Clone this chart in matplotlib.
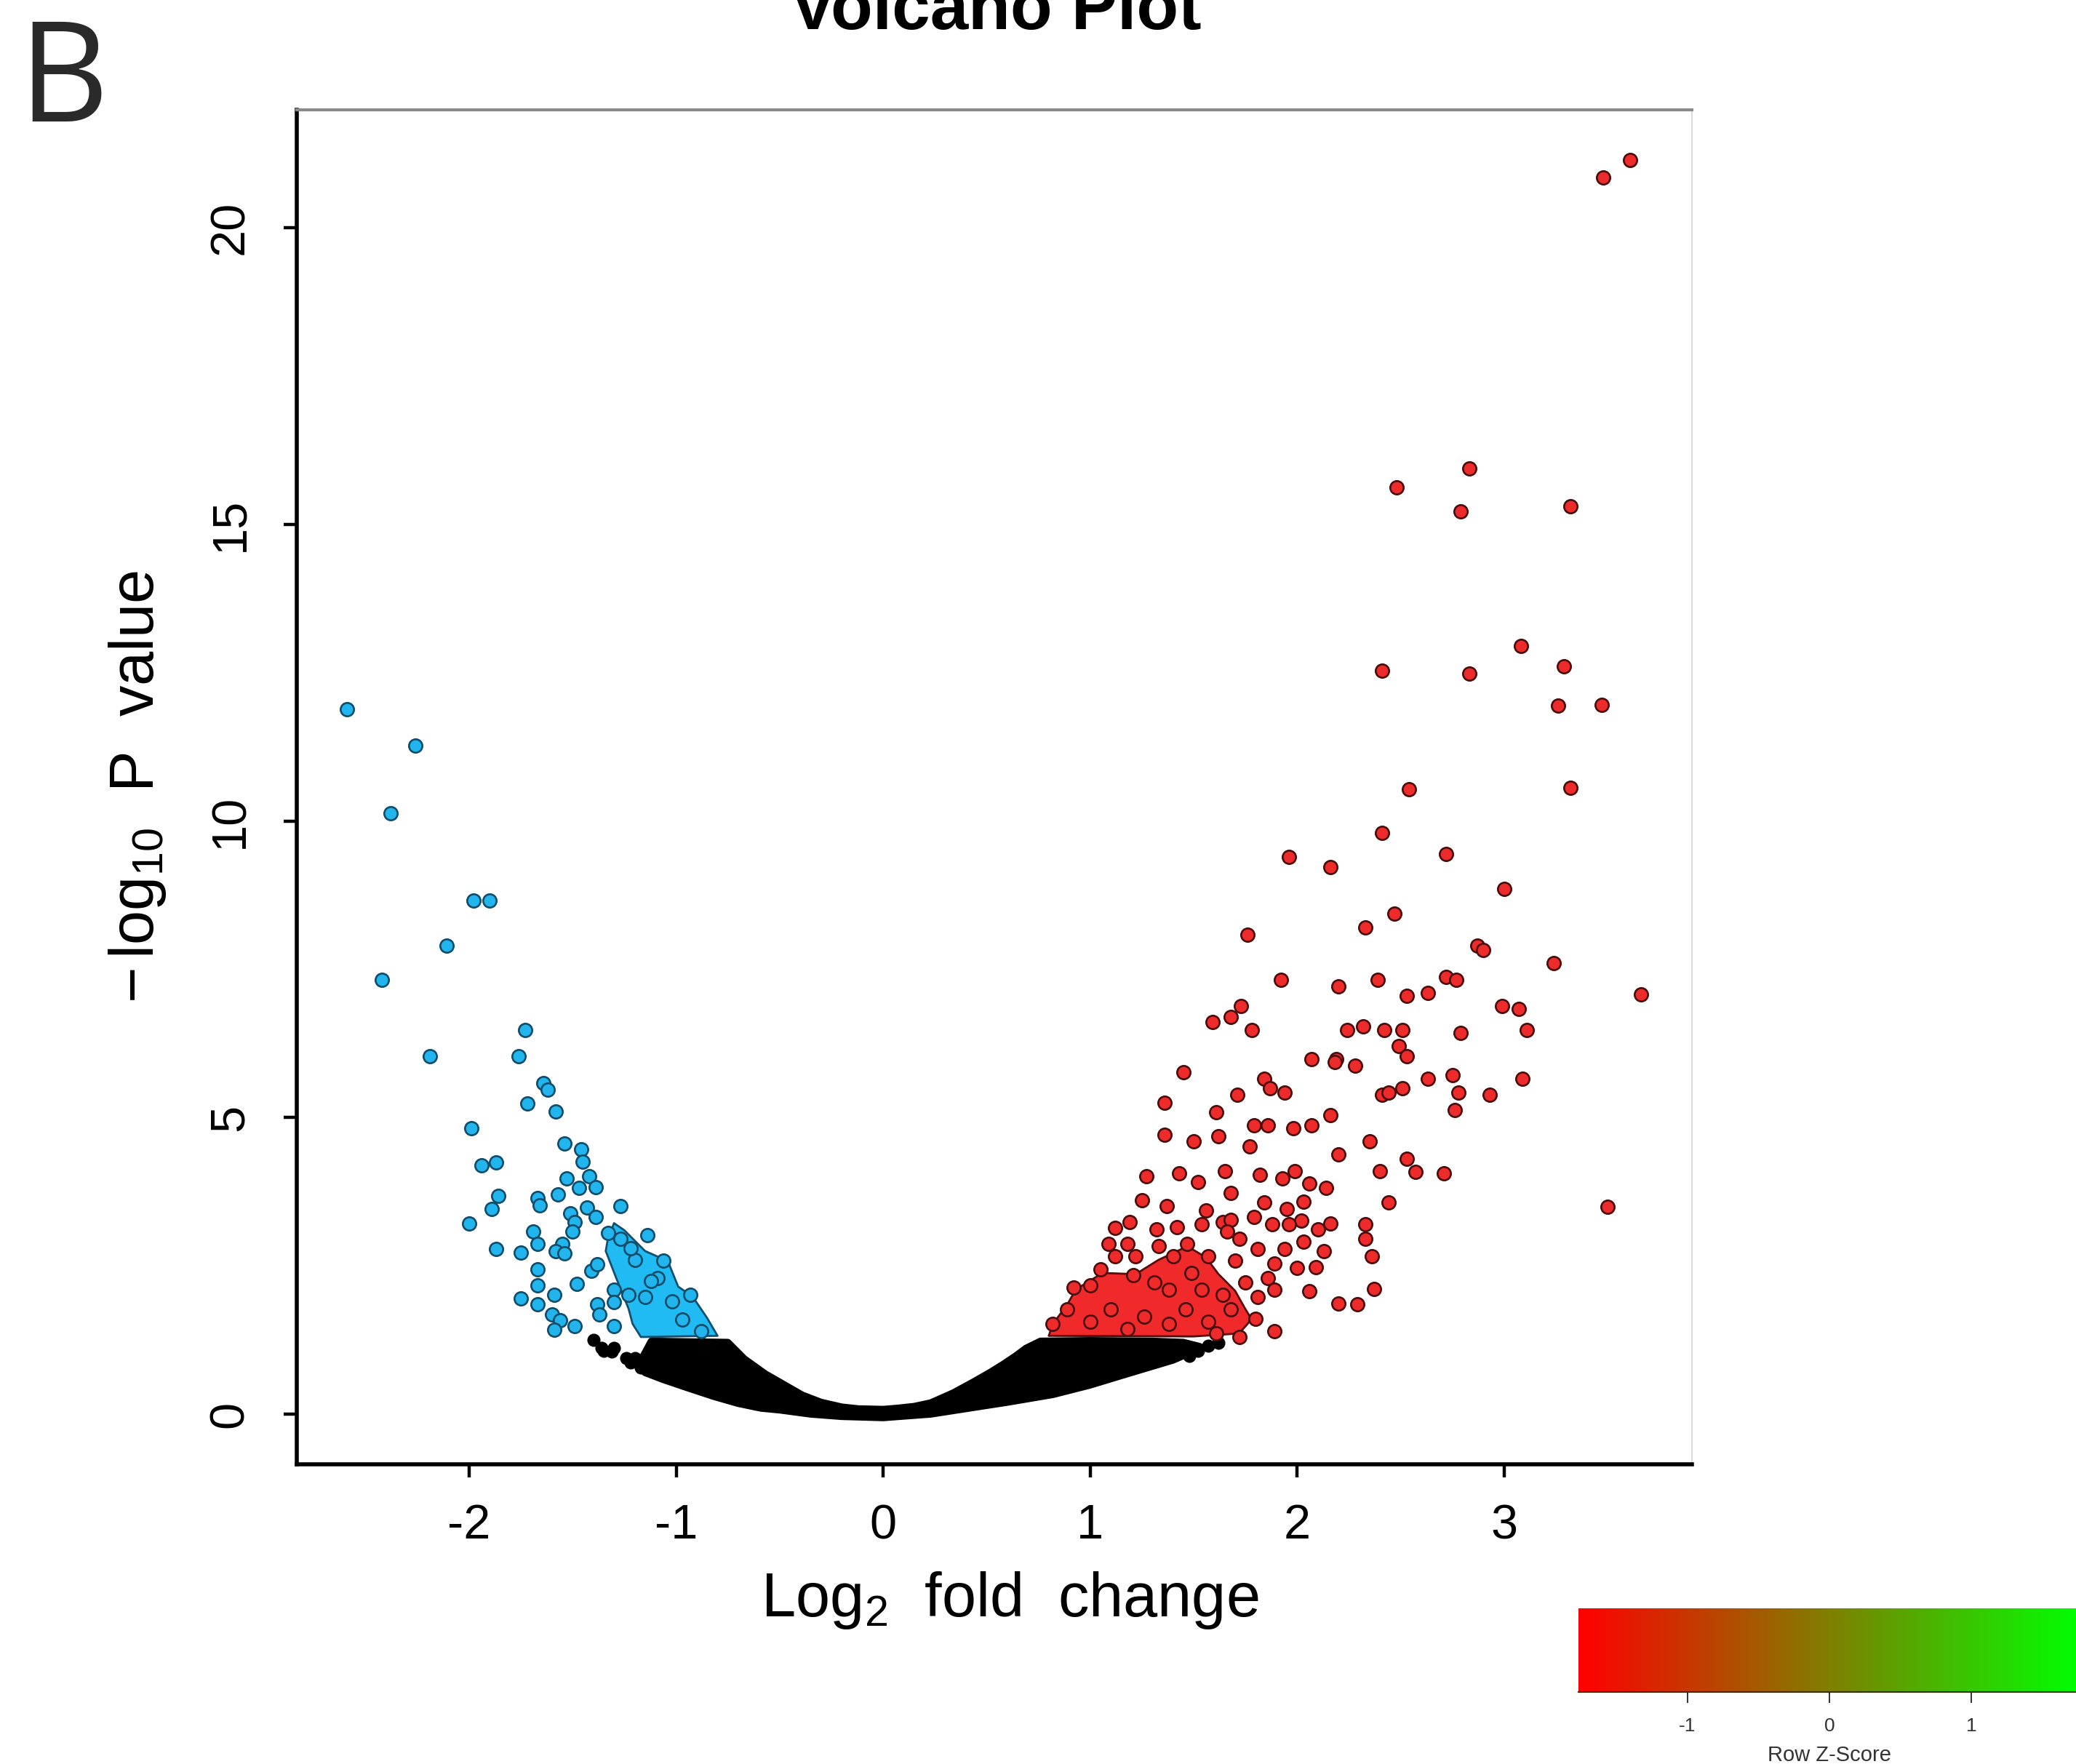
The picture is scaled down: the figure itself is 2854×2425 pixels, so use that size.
import numpy as np
import matplotlib.pyplot as plt
from matplotlib.colors import LinearSegmentedColormap

plt.rcParams['font.family'] = ['Liberation Sans', 'DejaVu Sans']
plt.rcParams['mathtext.fontset'] = 'custom'
plt.rcParams['mathtext.rm'] = 'Liberation Sans'
plt.rcParams['mathtext.it'] = 'Liberation Sans'
plt.rcParams['axes.unicode_minus'] = False

# down-regulated genes (blue)
blue_x = [-2.59, -2.26, -2.38, -1.98, -1.90, -2.11, -2.42, -2.19, -1.73, -1.76,
          -1.64, -1.62, -1.72, -1.58, -1.99, -1.94, -1.87, -1.86, -1.89, -2.00,
          -1.87, -1.54, -1.46, -1.45, -1.53, -1.42, -1.39, -1.47, -1.57, -1.67,
          -1.66, -1.43, -1.39, -1.27, -1.51, -1.49, -1.50, -1.69, -1.67, -1.55,
          -1.58, -1.54, -1.75, -1.14, -1.06, -1.67, -1.67, -1.75, -1.59, -1.67,
          -1.60, -1.56, -1.59, -1.49, -1.48, -1.41, -1.38, -1.38, -1.37, -1.30,
          -1.30, -1.30, -1.23, -0.93, -1.09, -1.15, -1.27, -1.20, -1.12, -1.02,
          -0.97, -0.88, -1.33, -1.22]
blue_y = [11.88, 11.27, 10.13, 8.66, 8.66, 7.90, 7.32, 6.03, 6.47, 6.03,
          5.58, 5.47, 5.24, 5.10, 4.82, 4.20, 4.24, 3.68, 3.46, 3.21,
          2.79, 4.56, 4.46, 4.26, 3.97, 4.01, 3.83, 3.81, 3.71, 3.64,
          3.52, 3.48, 3.32, 3.51, 3.38, 3.24, 3.08, 3.08, 2.87, 2.87,
          2.75, 2.71, 2.72, 3.02, 2.59, 2.44, 2.17, 1.95, 2.01, 1.85,
          1.68, 1.58, 1.42, 1.48, 2.20, 2.42, 2.53, 1.85, 1.68, 2.10,
          1.89, 1.48, 2.01, 2.01, 2.29, 1.97, 2.95, 2.60, 2.25, 1.90,
          1.60, 1.40, 3.05, 2.80]

# up-regulated genes (red)
red_x = [3.61, 3.48, 2.83, 2.48, 2.79, 3.32, 3.08, 2.41, 2.83, 3.29,
         3.26, 3.47, 2.54, 3.32, 2.41, 1.96, 2.16, 2.72, 3.00, 2.47,
         2.33, 1.76, 2.87, 2.90, 3.24, 1.92, 2.20, 2.39, 2.72, 2.77,
         3.66, 2.53, 2.63, 1.73, 2.99, 3.07, 1.68, 1.59, 3.11, 1.78,
         2.24, 2.32, 2.42, 2.51, 2.79, 2.49, 2.53, 2.07, 2.19, 2.28,
         2.18, 1.45, 1.84, 2.63, 2.75, 3.09, 1.71, 1.87, 1.94, 2.41,
         2.44, 2.51, 2.78, 2.93, 1.36, 1.61, 2.16, 2.76, 1.79, 1.98,
         2.07, 1.86, 1.36, 1.50, 1.62, 2.35, 2.53, 2.57, 2.71, 1.77,
         2.20, 2.44, 3.50,
         1.27, 1.43, 1.52, 1.65, 1.82, 1.93, 1.99, 2.06, 2.14, 2.40,
         1.68, 1.25, 1.37, 1.56, 1.84, 1.95, 2.03, 1.79, 1.88, 2.02,
         1.96, 2.16, 2.10, 2.33, 1.12, 1.19, 1.32, 1.42, 1.54, 1.64,
         1.68, 1.66, 1.72, 1.09, 1.18, 1.33, 1.47, 1.81, 1.94, 2.03,
         2.13, 2.33, 2.36, 1.12, 1.22, 1.40, 1.57, 1.70, 1.89, 2.00,
         2.09, 1.05, 1.21, 1.49, 1.75, 1.86, 1.89, 2.06, 2.37, 1.81,
         2.20, 2.29, 1.89, 1.72, 1.80, 0.92, 1.00, 0.89, 0.82, 1.31,
         1.38, 1.54, 1.64, 1.10, 1.26, 1.46, 1.68, 1.00, 1.18, 1.38,
         1.57, 1.61]
red_y = [21.14, 20.85, 15.94, 15.63, 15.22, 15.31, 12.95, 12.54, 12.48, 12.61,
         11.94, 11.96, 10.54, 10.56, 9.80, 9.40, 9.22, 9.44, 8.86, 8.44,
         8.21, 8.08, 7.90, 7.83, 7.61, 7.32, 7.21, 7.32, 7.37, 7.32,
         7.08, 7.05, 7.10, 6.88, 6.88, 6.83, 6.70, 6.61, 6.47, 6.47,
         6.47, 6.54, 6.47, 6.47, 6.43, 6.21, 6.03, 5.98, 5.98, 5.87,
         5.94, 5.76, 5.65, 5.65, 5.71, 5.65, 5.38, 5.49, 5.42, 5.38,
         5.42, 5.49, 5.42, 5.38, 5.25, 5.09, 5.04, 5.13, 4.87, 4.82,
         4.87, 4.87, 4.71, 4.60, 4.69, 4.60, 4.31, 4.08, 4.06, 4.51,
         4.38, 3.57, 3.50,
         4.01, 4.06, 3.91, 4.10, 4.03, 3.97, 4.10, 3.89, 3.81, 4.10,
         3.73, 3.61, 3.51, 3.44, 3.57, 3.46, 3.58, 3.32, 3.20, 3.26,
         3.20, 3.21, 3.11, 3.20, 3.14, 3.24, 3.11, 3.15, 3.20, 3.24,
         3.27, 3.08, 2.96, 2.87, 2.87, 2.83, 2.87, 2.78, 2.78, 2.91,
         2.75, 2.96, 2.66, 2.66, 2.66, 2.66, 2.66, 2.59, 2.54, 2.46,
         2.48, 2.44, 2.34, 2.38, 2.22, 2.29, 2.10, 2.07, 2.11, 1.97,
         1.86, 1.85, 1.40, 1.30, 1.61, 2.13, 2.17, 1.77, 1.52, 2.22,
         2.10, 2.10, 2.01, 1.77, 1.64, 1.77, 1.77, 1.56, 1.43, 1.52,
         1.56, 1.36]

# sparse non-significant genes at the edges of the cloud
black_x = [-1.40, -1.36, -1.31, -1.35, -1.30, -1.24, -1.22, -1.20, -1.17, -1.15,
           1.52, 1.57, 1.62, 1.48]
black_y = [1.25, 1.12, 1.05, 1.07, 1.12, 0.95, 0.87, 0.95, 0.78, 0.82,
           1.07, 1.15, 1.20, 0.98]

# outline of the dense non-significant cloud (top edge, then bottom edge back)
cloud_top_x = [-1.12, -0.95, -0.75, -0.67, -0.57, -0.48, -0.39, -0.30, -0.20, -0.12,
               0.00, 0.07, 0.15, 0.23, 0.34, 0.44, 0.52, 0.58, 0.64, 0.69,
               0.76, 1.00, 1.30, 1.45, 1.53]
cloud_top_y = [1.23, 1.22, 1.21, 0.93, 0.68, 0.50, 0.32, 0.20, 0.12, 0.09,
               0.08, 0.10, 0.13, 0.19, 0.36, 0.55, 0.71, 0.84, 0.98, 1.11,
               1.23, 1.24, 1.23, 1.21, 1.14]
cloud_bot_x = [1.50, 1.40, 1.17, 1.00, 0.82, 0.60, 0.47, 0.23, 0.00, -0.20,
               -0.35, -0.50, -0.59, -0.70, -0.82, -0.95, -1.06, -1.15, -1.18, -1.16,
               -1.14]
cloud_bot_y = [1.06, 0.91, 0.67, 0.49, 0.33, 0.20, 0.13, 0.00, -0.06, -0.04,
               0.00, 0.07, 0.10, 0.18, 0.30, 0.45, 0.58, 0.70, 0.82, 0.97,
               1.10]

# dense significant cores
blue_core_x = [-1.30, -1.25, -1.15, -1.04, -0.99, -0.92, -0.85, -0.80, -1.00, -1.17,
               -1.21, -1.23, -1.29, -1.34, -1.33]
blue_core_y = [3.22, 3.10, 2.75, 2.58, 2.15, 1.98, 1.62, 1.32, 1.31, 1.30,
               1.52, 1.78, 2.30, 2.75, 2.95]
red_core_x = [0.80, 0.82, 0.89, 0.93, 1.06, 1.22, 1.33, 1.47, 1.56, 1.62,
              1.70, 1.75, 1.78, 1.72, 1.50]
red_core_y = [1.32, 1.52, 1.85, 2.10, 2.38, 2.36, 2.60, 2.83, 2.64, 2.36,
              2.08, 1.77, 1.60, 1.36, 1.31]

xticks = [-2, -1, 0, 1, 2, 3]
yticks = [0, 5, 10, 15, 20]
cbar_ticks = [-1, 0, 1]
cbar_range = [-1.77, 1.77]

fig = plt.figure(figsize=(28.54, 24.25), dpi=100)
ax = fig.add_axes([0.1429, 0.1699, 0.6721, 0.7678])

ax.fill(cloud_top_x + cloud_bot_x, cloud_top_y + cloud_bot_y,
        facecolor='black', edgecolor='black', lw=7, joinstyle='round', zorder=2)
ax.scatter(black_x, black_y, s=170, c='black', lw=0, zorder=2)
ax.fill(blue_core_x, blue_core_y, facecolor='#1fbbf2', edgecolor='#14506e',
        lw=2.0, joinstyle='round', zorder=3)
ax.fill(red_core_x, red_core_y, facecolor='#f02a2a', edgecolor='#5a0c0c',
        lw=2.0, joinstyle='round', zorder=3)
ax.scatter(blue_x, blue_y, s=175, facecolor='#22b4ec', edgecolor='#0f4d6b',
           lw=1.9, zorder=4)
ax.scatter(red_x, red_y, s=175, facecolor='#ee2b2b', edgecolor='#4a0d0d',
           lw=1.9, zorder=4)

ax.set_xlim(-2.833, 3.907)
ax.set_ylim(-0.846, 21.99)
ax.set_xticks(xticks)
ax.set_yticks(yticks)
ax.set_yticklabels([str(v) for v in yticks], rotation=90, va='center')
ax.tick_params(axis='both', labelsize=48, length=13, width=3.2, color='black')
ax.tick_params(axis='x', pad=26)
ax.tick_params(axis='y', pad=30)

for side in ['left', 'bottom']:
    ax.spines[side].set_linewidth(4)
    ax.spines[side].set_color('black')
ax.spines['top'].set_linewidth(3)
ax.spines['top'].set_color('#8a8a8a')
ax.spines['right'].set_linewidth(1.5)
ax.spines['right'].set_color('#dcdcdc')

ax.set_xlabel(r'$\mathrm{Log}_2\ \ \mathrm{fold\ \ change}$', fontsize=61, labelpad=20)
ax.xaxis.set_label_coords(0.511, -0.078)
ax.set_ylabel(r'$-\,\mathrm{log}_{10}\ \ \mathrm{P\ \ value}$', fontsize=61, labelpad=40)

fig.text(0.4795, 0.9835, 'Volcano Plot', fontsize=68, fontweight='bold',
         ha='center', va='baseline')
fig.text(0.009, 0.931, 'B', fontsize=138, color='#2a2a2a', ha='left',
         va='baseline', family='Open Sans')

# colour key
cax = fig.add_axes([0.7603, 0.0408, 0.2418, 0.0474])
cmap = LinearSegmentedColormap.from_list('rg', ['#ff0000', '#00ff00'])
grad = np.linspace(cbar_range[0], cbar_range[1], 256).reshape(1, -1)
cax.imshow(grad, cmap=cmap, aspect='auto',
           extent=(cbar_range[0], cbar_range[1], 0, 1))
cax.set_xlim(cbar_range)
cax.set_yticks([])
cax.set_xticks(cbar_ticks)
cax.tick_params(axis='x', labelsize=19, length=11, width=1.4,
                colors='#333333', pad=14)
for side in ['left', 'top', 'right']:
    cax.spines[side].set_visible(False)
cax.spines['bottom'].set_color('#3a2a00')
cax.spines['bottom'].set_linewidth(1.5)
cax.set_xlabel('Row Z-Score', fontsize=21, color='#333333', labelpad=10)

fig.savefig('out.png', dpi=100)
